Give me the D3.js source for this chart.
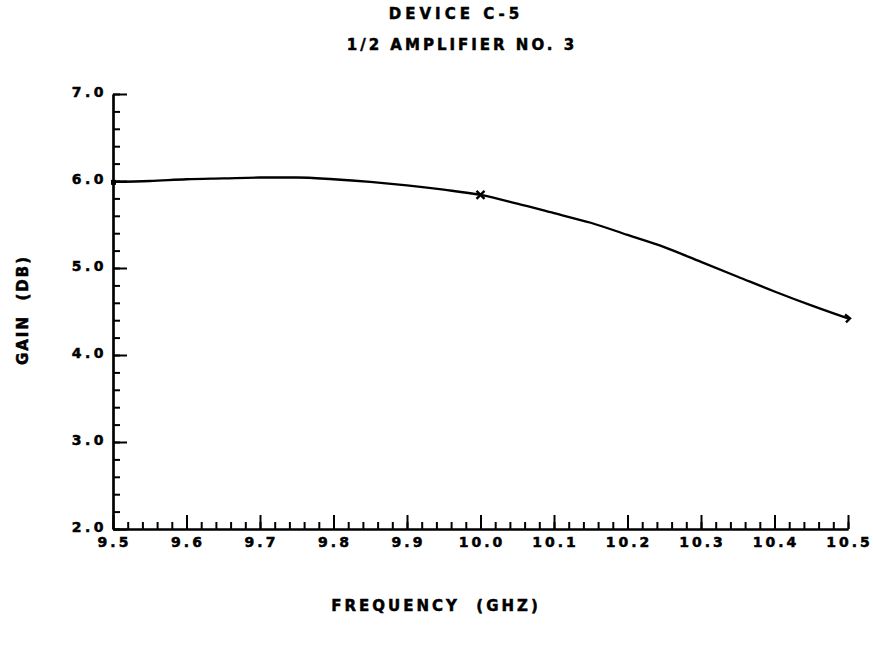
<!DOCTYPE html>
<html>
<head>
<meta charset="utf-8">
<script src="https://cdn.jsdelivr.net/npm/d3@7"></script>
<style>
  body { margin: 0; background: #fff; }
  svg { display: block; }
  text { font-family: "DejaVu Sans", sans-serif; font-weight: bold; fill: #000; stroke: #000; stroke-width: 0.5px; }
</style>
</head>
<body>
<svg id="chart" width="873" height="645"></svg>
<script>
// ---- data ----
const titleLines = ["DEVICE C-5", "1/2 AMPLIFIER NO. 3"];
const xLabel = "FREQUENCY  (GHZ)";
const yLabel = "GAIN  (DB)";
const xTicks = [9.5, 9.6, 9.7, 9.8, 9.9, 10.0, 10.1, 10.2, 10.3, 10.4, 10.5];
const yTicks = [2.0, 3.0, 4.0, 5.0, 6.0, 7.0];
// curve (frequency GHz, gain dB)
const freq = [9.50, 9.55, 9.60, 9.65, 9.70, 9.75, 9.80, 9.85, 9.90, 9.95, 10.00,
              10.05, 10.10, 10.15, 10.20, 10.25, 10.30, 10.35, 10.40, 10.45, 10.50];
const gain = [5.99, 6.00, 6.02, 6.03, 6.04, 6.04, 6.02, 5.99, 5.95, 5.90, 5.84,
              5.74, 5.63, 5.52, 5.38, 5.24, 5.07, 4.90, 4.73, 4.57, 4.42];
// measured points with markers
const markFreq = [9.5, 10.0, 10.5];
const markGain = [5.99, 5.84, 4.42];
const markType = ["square", "cross", "chevron"];

// ---- layout ----
const svg = d3.select("#chart");
const x = d3.scaleLinear().domain([9.5, 10.5]).range([113, 848]);
const y = d3.scaleLinear().domain([2, 7]).range([529, 94]);

const fmt = d3.format(".1f");

// x axis: minor ticks
const gx = svg.append("g").attr("transform", `translate(0,${y(2)})`);
gx.call(d3.axisBottom(x)
  .tickValues(d3.range(0, 51).map(i => 9.5 + i * 0.02))
  .tickSize(-7).tickSizeOuter(0).tickFormat(""));
// x axis: major ticks + labels
const gx2 = svg.append("g").attr("transform", `translate(0,${y(2)})`);
gx2.call(d3.axisBottom(x).tickValues(xTicks).tickSize(-14).tickSizeOuter(0)
  .tickPadding(9).tickFormat(fmt));
gx2.selectAll("text").attr("font-size", 14).style("letter-spacing", "3px")
  .attr("dx", 1).attr("dy", "0.62em");

// y axis: minor ticks
const gy = svg.append("g").attr("transform", `translate(${x(9.5)},0)`);
gy.call(d3.axisLeft(y).tickValues(d3.range(0, 26).map(i => 2 + i * 0.2))
  .tickSize(-7).tickSizeOuter(0).tickFormat(""));
const gy2 = svg.append("g").attr("transform", `translate(${x(9.5)},0)`);
gy2.call(d3.axisLeft(y).tickValues(yTicks).tickSize(-14).tickSizeOuter(0)
  .tickPadding(6).tickFormat(fmt));
gy2.selectAll("text").attr("font-size", 14).style("letter-spacing", "3.5px")
  .attr("dy", "0.2em");

svg.selectAll(".domain").attr("stroke", "#000").attr("stroke-width", 2.2);
svg.selectAll(".tick line").attr("stroke", "#000").attr("stroke-width", 2);

// ---- curve ----
const pts = freq.map((f, i) => [f, gain[i]]);
svg.append("path")
  .datum(pts)
  .attr("fill", "none")
  .attr("stroke", "#000")
  .attr("stroke-width", 2.3)
  .attr("d", d3.line().x(d => x(d[0])).y(d => y(d[1])).curve(d3.curveMonotoneX));

// ---- markers ----
markFreq.forEach((f, i) => {
  const cx = x(f), cy = y(markGain[i]);
  const t = markType[i];
  if (t === "square") {
    svg.append("rect").attr("x", cx - 2).attr("y", cy - 2).attr("width", 5).attr("height", 5).attr("fill", "#000");
  } else if (t === "cross") {
    svg.append("path").attr("d", `M${cx-4},${cy-4}L${cx+4},${cy+4}M${cx-4},${cy+4}L${cx+4},${cy-4}`)
      .attr("stroke", "#000").attr("stroke-width", 2.4);
  } else {
    svg.append("path").attr("d", `M${cx-3},${cy-4}L${cx+2},${cy}L${cx-2},${cy+4}`)
      .attr("fill", "none").attr("stroke", "#000").attr("stroke-width", 2.4);
  }
});

// ---- titles ----
const tt = svg.append("g");
tt.append("text").attr("x", 456).attr("y", 19).attr("text-anchor", "middle")
  .attr("font-size", 15).style("letter-spacing", "4px").style("white-space", "pre").text(titleLines[0]);
tt.append("text").attr("x", 462).attr("y", 50).attr("text-anchor", "middle")
  .attr("font-size", 15).style("letter-spacing", "3px").style("white-space", "pre").text(titleLines[1]);

svg.append("text").attr("x", 436).attr("y", 611).attr("text-anchor", "middle")
  .attr("font-size", 15).style("letter-spacing", "3px").style("white-space", "pre").text(xLabel);

svg.append("text").attr("transform", "translate(28,310) rotate(-90)").attr("text-anchor", "middle")
  .attr("font-size", 15).style("letter-spacing", "2px").style("white-space", "pre").text(yLabel);
</script>
</body>
</html>
